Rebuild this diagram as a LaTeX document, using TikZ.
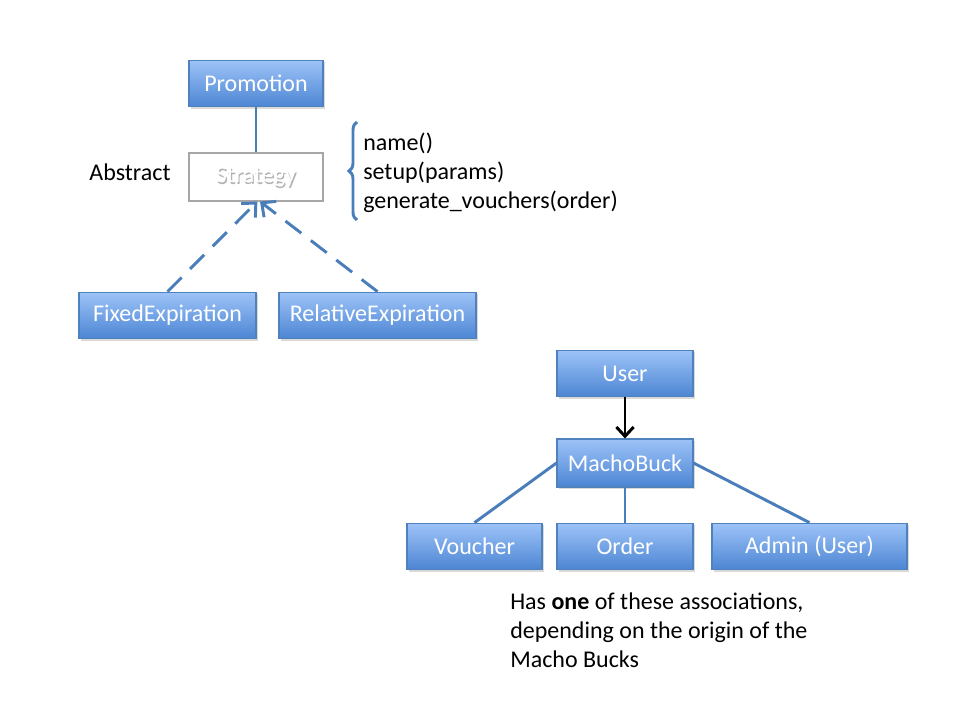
\documentclass[tikz,border=0pt]{standalone}
\usepackage{fontspec}
\setmainfont{Carlito}
\usetikzlibrary{arrows.meta,shadows,decorations.pathreplacing}
\definecolor{boxtop}{HTML}{9DC3F8}
\definecolor{boxbot}{HTML}{4C85D3}
\definecolor{boxline}{HTML}{4F81BD}
\definecolor{link}{HTML}{4A7EBB}
\tikzset{
    cls/.style={draw=boxline, line width=0.8pt, top color=boxtop, bottom color=boxbot,
        text=white, font=\fontsize{18}{21.6}\selectfont, inner sep=0pt,
        drop shadow={opacity=0.3, shadow xshift=1.2pt, shadow yshift=-1.5pt}},
    abstractcls/.style={draw=gray!70, line width=0.8pt, fill=white, inner sep=0pt},
    note/.style={font=\fontsize{18}{21.6}\selectfont, align=left, inner sep=0pt},
    assoc/.style={draw=link, line width=2.2pt},
    realize/.style={draw=link, line width=2.2pt, dash pattern=on 15pt off 9pt,
        -{Straight Barb[length=8pt, width=15pt, line width=2.2pt]}}
}
\begin{document}
\begin{tikzpicture}[x=0.75pt, y=-0.75pt]
    \useasboundingbox (0,0) rectangle (960,720);

    % Strategie
    \node[cls, minimum width=100.5pt, minimum height=35pt] (promotion) at (256,83.5) {Promotion};
    \node[abstractcls, minimum width=100.5pt, minimum height=36pt] (strategy) at (256,177) {};
    \node[text=gray!60, font=\fontsize{18}{21.6}\selectfont] at ([xshift=0.8pt, yshift=-1pt]strategy.center) {Strategy};
    \node[text=white, font=\fontsize{18}{21.6}\selectfont] at (strategy.center) {Strategy};
    \node[note] (abstract) at (130,172) {Abstract};
    \node[cls, minimum width=132.75pt, minimum height=35pt] (fixed) at (167.5,315.5) {FixedExpiration};
    \node[cls, minimum width=147.75pt, minimum height=35pt] (relative) at (377.5,315.5) {RelativeExpiration};

    \draw[assoc] (promotion) -- (strategy);
    \draw[realize] (fixed.north) -- ([xshift=1pt]strategy.south);
    \draw[realize] (relative.north) -- ([xshift=3pt]strategy.south);

    % Metodi
    \draw[link, line width=2.2pt, decorate, decoration={brace, amplitude=6pt, aspect=0.5}]
        (357,220) -- (357,122);
    \node[note, anchor=west] (methods) at (363,173) {name()\\setup(params)\\generate\_vouchers(order)};

    % MachoBuck
    \node[cls, minimum width=102pt, minimum height=35pt] (user) at (625,373.5) {User};
    \node[cls, minimum width=102pt, minimum height=36pt] (machobuck) at (625,463) {MachoBuck};
    \node[cls, minimum width=101.25pt, minimum height=35pt] (voucher) at (474.5,546.5) {Voucher};
    \node[cls, minimum width=102pt, minimum height=35pt] (order) at (625,546.5) {Order};
    \node[cls, minimum width=146.25pt, minimum height=35pt] (admin) at (809.5,546.5) {Admin (User)};

    \draw[black, line width=2.2pt, -{Straight Barb[length=7pt, width=13pt, line width=2.2pt]}] (user) -- (machobuck);
    \draw[assoc] (machobuck.west) -- (voucher.north);
    \draw[assoc] (machobuck) -- (order);
    \draw[assoc] (machobuck.east) -- (admin.north);

    \node[note, anchor=north west] (hint) at (510,593) {Has \textbf{one} of these associations,\\depending on the origin of the\\Macho Bucks};
\end{tikzpicture}
\end{document}
